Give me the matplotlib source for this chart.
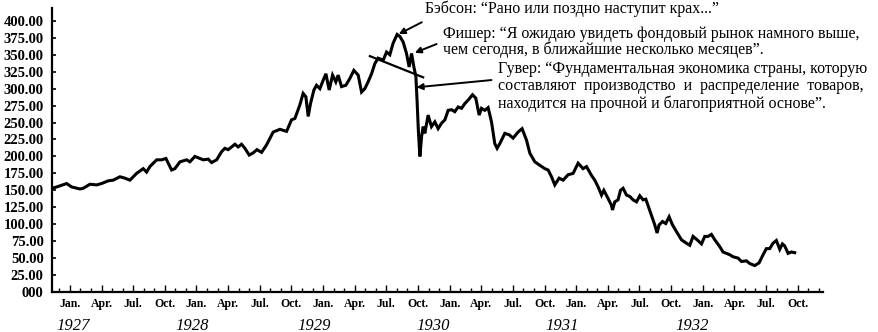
import matplotlib
matplotlib.use("Agg")
import matplotlib.pyplot as plt
import matplotlib.transforms as mtransforms

# months since Jan 1927 (0 = Jan 1927)
months = [-1.7, -1.26, -0.31, 0.16, 0.95, 1.26, 1.90, 2.53, 3.00, 3.63, 4.10, 4.74, 5.21, 5.69,
          6.32, 6.95, 7.27, 7.58, 8.22, 8.69, 9.10, 9.64, 9.95, 10.43, 11.06, 11.37, 11.85,
          12.32, 12.64, 13.11, 13.43, 13.91, 14.38, 14.69, 15.00, 15.33, 15.64, 15.95, 16.27,
          16.59, 17.00, 17.35, 17.73, 18.17, 18.64, 19.27, 19.91, 20.54, 21.01, 21.33, 21.80,
          22.11, 22.37, 22.59, 22.81, 23.13, 23.38, 23.70, 23.95, 24.27, 24.58, 24.90, 25.21,
          25.43, 25.75, 26.16, 26.54, 26.92, 27.33, 27.65, 27.96, 28.27, 28.60, 28.91, 29.22,
          29.70, 30.02, 30.33, 30.64, 31.02, 31.28, 31.59, 31.91, 32.16, 32.39, 32.61, 32.80,
          32.92, 33.03, 33.18, 33.34, 33.49, 33.65, 33.96, 34.28, 34.60, 34.91, 35.23, 35.55,
          35.86, 36.18, 36.49, 36.81, 37.13, 37.44, 37.75, 38.17, 38.48, 38.80, 39.02, 39.34,
          39.65, 39.97, 40.28, 40.50, 40.76, 41.23, 41.64, 42.02, 42.49, 42.87, 43.29, 43.60,
          44.08, 44.55, 45.02, 45.34, 45.66, 45.97, 46.38, 46.76, 47.23, 47.71, 48.18, 48.65,
          48.98, 49.45, 49.76, 50.08, 50.40, 50.62, 51.02, 51.34, 51.44, 51.66, 51.97, 52.20,
          52.45, 52.77, 53.08, 53.39, 53.72, 54.03, 54.34, 54.60, 54.91, 55.23, 55.45, 55.67,
          55.86, 56.18, 56.49, 56.81, 57.13, 57.51, 57.98, 58.45, 58.77, 59.08, 59.46, 59.88,
          60.19, 60.50, 60.82, 61.14, 61.61, 61.92, 62.56, 62.87, 63.35, 63.67, 64.14, 64.45,
          64.93, 65.34, 65.72, 66.03, 66.35, 66.66, 66.98, 67.30, 67.55, 67.77, 68.09, 68.40,
          68.72]
dow = [153, 155, 160, 155, 152, 153, 159, 158, 160, 164, 165, 170, 168, 165,
       175, 182, 177, 185, 195, 195, 197, 180, 182, 192, 195, 192, 200,
       197, 195, 196, 191, 195, 207, 212, 210, 214, 218, 214, 218,
       212, 202, 205, 210, 206, 217, 236, 240, 237, 254, 256, 276,
       293, 288, 259, 278, 298, 305, 300, 310, 322, 298, 320, 310,
       320, 303, 305, 315, 327, 320, 295, 300, 310, 322, 337, 345,
       342, 354, 350, 367, 380, 377, 369, 352, 332, 352, 332, 318,
       280, 240, 200, 229, 244, 234, 261, 244, 251, 241, 249, 254,
       268, 269, 266, 273, 271, 278, 283, 291, 286, 261, 271, 268,
       272, 251, 219, 212, 219, 234, 232, 227, 236, 241, 224, 205,
       192, 187, 182, 180, 170, 158, 168, 165, 173, 175, 190, 182,
       185, 172, 165, 155, 143, 150, 138, 128, 121, 133, 136, 150,
       153, 143, 141, 136, 133, 142, 136, 137, 123, 109, 99, 87,
       99, 104, 101, 111, 99, 89, 77, 72, 69, 82, 77, 71,
       82, 82, 85, 77, 67, 59, 55, 52, 50, 45, 46, 42,
       39, 43, 55, 64, 64, 72, 76, 63, 71, 68, 57, 59,
       58]

y_ticks = [0, 25, 50, 75, 100, 125, 150, 175, 200, 225, 250, 275, 300, 325, 350, 375, 400]
y_tick_labels = ["000"] + [f"{v:.2f}" for v in y_ticks[1:]]
month_names = ["Jan.", "Apr.", "Jul.", "Oct."]
years = ["1927", "1928", "1929", "1930", "1931", "1932"]
year_label_pos = [0.3, 11.6, 23.2, 34.4, 46.7, 59.0]

babson = "Бэбсон: “Рано или поздно наступит крах...”"
fisher = ("Фишер: “Я ожидаю увидеть фондовый рынок намного выше,\n"
          "чем сегодня, в ближайшие несколько месяцев”.")
hoover = ("Гувер: “Фундаментальная экономика страны, которую\n"
          "составляют  производство  и  распределение  товаров,\n"
          "находится на прочной и благоприятной основе”.")

serif = ["Liberation Serif", "DejaVu Serif"]

fig = plt.figure(figsize=(8.79, 3.32), dpi=100)
ax = fig.add_axes([52 / 879, 1 - 292 / 332, (823 - 52) / 879, (292 - 8) / 332])

ax.plot(months, dow, color="black", lw=2.2, solid_joinstyle="miter")

ax.set_xlim(-1.7, 71.4)
ax.set_ylim(0, 419)

for s in ["top", "right"]:
    ax.spines[s].set_visible(False)
ax.spines["left"].set_linewidth(1.6)
ax.spines["bottom"].set_linewidth(1.6)

ax.set_yticks(y_ticks)
ax.set_yticklabels(y_tick_labels, fontfamily=serif, fontweight="bold", fontsize=10.5)
ax.tick_params(axis="y", direction="in", length=3, width=1.2, pad=6)

qpos = list(range(0, 72, 3))
ax.set_xticks(qpos)
ax.set_xticklabels([month_names[i % 4] for i in range(len(qpos))],
                   fontfamily=serif, fontweight="bold", fontsize=8.5)
ax.set_xticks(list(range(-1, 72)), minor=True)
ax.tick_params(axis="x", which="major", direction="in", length=5, width=1.0, pad=4)
ax.tick_params(axis="x", which="minor", direction="in", length=3, width=1.0)

trans = mtransforms.blended_transform_factory(ax.transData, ax.transAxes)
for yl, xp in zip(years, year_label_pos):
    ax.text(xp, -0.118, yl, transform=trans, ha="center", va="center",
            fontfamily=serif, fontstyle="italic", fontsize=12, clip_on=False)

arrow_kw = dict(arrowstyle="-|>", color="black", lw=1.4, mutation_scale=9, shrinkA=0, shrinkB=0)

ax.text(33.7, 418, babson, ha="left", va="center", fontfamily=serif, fontsize=11.5, clip_on=False)
ax.annotate("", xy=(31.18, 380.5), xytext=(33.36, 398), arrowprops=arrow_kw)

ax.text(35.36, 369, fisher, ha="left", va="center", fontfamily=serif, fontsize=11.5,
        linespacing=1.0, clip_on=False)
ax.annotate("", xy=(32.70, 353), xytext=(34.76, 365.8), arrowprops=arrow_kw)

ax.plot([28.44, 33.49], [348, 316.7], color="black", lw=1.6)

ax.text(40.57, 303, hoover, ha="left", va="center", fontfamily=serif, fontsize=11.5,
        linespacing=1.08, clip_on=False)
ax.annotate("", xy=(32.86, 302), xytext=(39.97, 312.7), arrowprops=arrow_kw)

fig.savefig("out.png", dpi=100)
